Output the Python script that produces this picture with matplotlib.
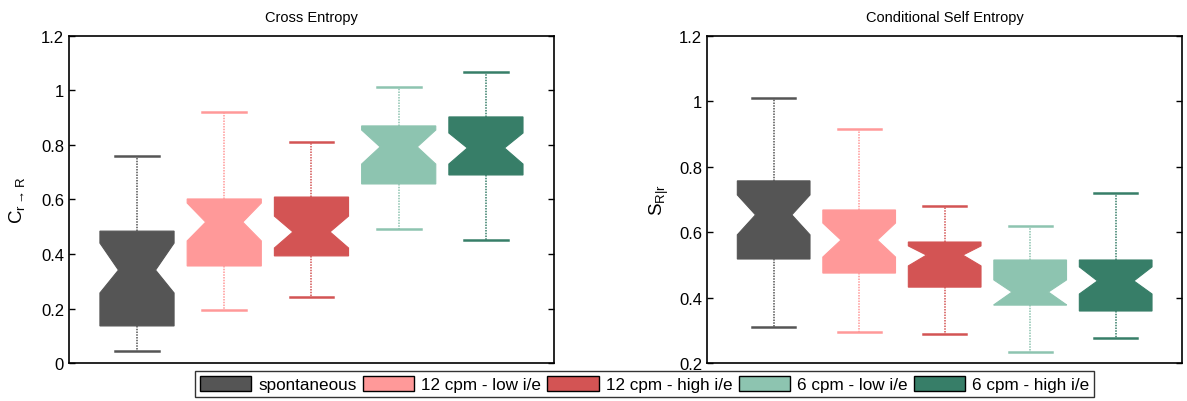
import matplotlib
matplotlib.use('Agg')
import matplotlib.pyplot as plt
from matplotlib.patches import Patch

plt.rcParams['font.family'] = ['Liberation Sans', 'DejaVu Sans']
plt.rcParams['mathtext.default'] = 'regular'

# groups and colours
groups = ['spontaneous', '12 cpm - low i/e', '12 cpm - high i/e',
          '6 cpm - low i/e', '6 cpm - high i/e']
colors = ['#555555', '#FF9999', '#D35454', '#8DC4B0', '#377E68']

# cross entropy: whislo, q1, med, q3, whishi, notch low, notch high
ce_whislo = [0.044, 0.194, 0.242, 0.492, 0.451]
ce_q1 = [0.136, 0.356, 0.393, 0.657, 0.690]
ce_med = [0.341, 0.517, 0.481, 0.793, 0.789]
ce_q3 = [0.484, 0.602, 0.609, 0.870, 0.903]
ce_whishi = [0.760, 0.921, 0.811, 1.013, 1.068]
ce_cilo = [0.257, 0.448, 0.422, 0.730, 0.730]
ce_cihi = [0.440, 0.587, 0.539, 0.855, 0.844]

# conditional self entropy
se_whislo = [0.310, 0.295, 0.289, 0.234, 0.276]
se_q1 = [0.518, 0.475, 0.432, 0.377, 0.359]
se_med = [0.653, 0.576, 0.530, 0.417, 0.451]
se_q3 = [0.757, 0.668, 0.570, 0.515, 0.515]
se_whishi = [1.010, 0.916, 0.680, 0.619, 0.720]
se_cilo = [0.592, 0.524, 0.497, 0.378, 0.411]
se_cihi = [0.714, 0.628, 0.558, 0.454, 0.494]


def make_stats(wlo, q1, med, q3, whi, cilo, cihi):
    out = []
    for i in range(len(med)):
        out.append(dict(whislo=wlo[i], q1=q1[i], med=med[i], q3=q3[i],
                        whishi=whi[i], cilo=cilo[i], cihi=cihi[i], fliers=[]))
    return out


def draw(ax, stats):
    for i, st in enumerate(stats):
        c = colors[i]
        ax.bxp([st], positions=[i + 1], widths=0.85, capwidths=0.5,
               shownotches=True, patch_artist=True, showfliers=False,
               boxprops=dict(facecolor=c, edgecolor=c, linewidth=0.8),
               whiskerprops=dict(color=c, linestyle=(0, (1, 0.8)), linewidth=1.1),
               capprops=dict(color=c, linewidth=1.8),
               medianprops=dict(linewidth=0))
    ax.set_xlim(0.22, 5.78)
    ax.set_xticks([])
    ax.tick_params(axis='y', direction='in', right=True, labelsize=12,
                   length=4, width=1)
    for s in ax.spines.values():
        s.set_linewidth(1.2)


fig = plt.figure(figsize=(11.87, 4.02), dpi=100)
ax1 = fig.add_axes([0.0581, 0.0945, 0.4086, 0.8135])
ax2 = fig.add_axes([0.5956, 0.0945, 0.4005, 0.8135])

draw(ax1, make_stats(ce_whislo, ce_q1, ce_med, ce_q3, ce_whishi, ce_cilo, ce_cihi))
ax1.set_ylim(0, 1.2)
ax1.set_yticks([0, 0.2, 0.4, 0.6, 0.8, 1.0, 1.2])
ax1.set_yticklabels(['0', '0.2', '0.4', '0.6', '0.8', '1', '1.2'])
ax1.set_title('Cross Entropy', fontsize=10.5, pad=11)
ax1.set_ylabel(r'$C_{r\rightarrow R}$', fontsize=13.5, labelpad=10)

draw(ax2, make_stats(se_whislo, se_q1, se_med, se_q3, se_whishi, se_cilo, se_cihi))
ax2.set_ylim(0.2, 1.2)
ax2.set_yticks([0.2, 0.4, 0.6, 0.8, 1.0, 1.2])
ax2.set_yticklabels(['0.2', '0.4', '0.6', '0.8', '1', '1.2'])
ax2.set_title('Conditional Self Entropy', fontsize=10.5, pad=11)
ax2.set_ylabel(r'$S_{R|r}$', fontsize=13.5, labelpad=6)

handles = [Patch(facecolor=c, edgecolor='black', linewidth=1) for c in colors]
leg = fig.legend(handles, groups, loc='lower center', bbox_to_anchor=(0.543, -0.012),
                 ncol=5, fontsize=12.3, frameon=True, fancybox=False,
                 edgecolor='black', handlelength=3.0, handleheight=1.0,
                 handletextpad=0.4, columnspacing=0.38, borderpad=0.3)
leg.get_frame().set_linewidth(1)

fig.savefig('out.png', dpi=100)
